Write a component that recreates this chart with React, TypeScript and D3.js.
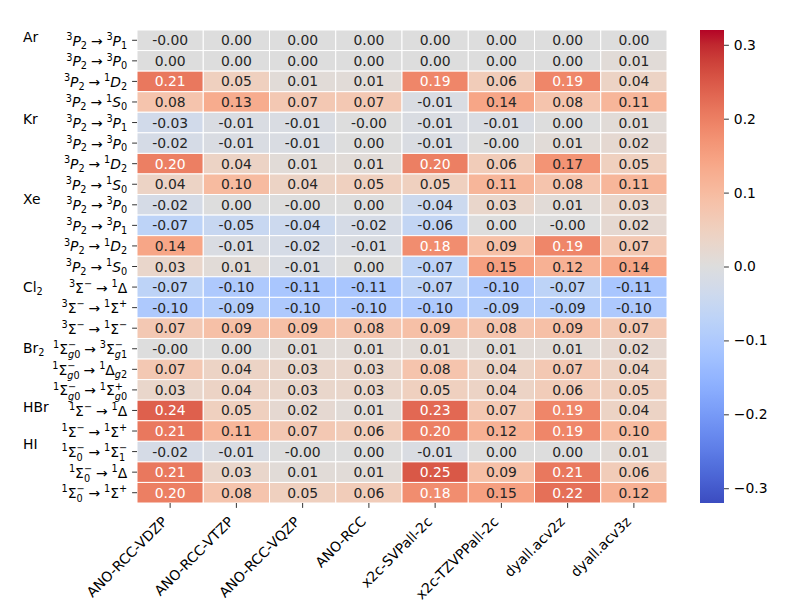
import { useEffect, useRef } from "react";
import * as d3 from "d3";

// Basis sets (columns)
const COLUNAS = [
  "ANO-RCC-VDZP",
  "ANO-RCC-VTZP",
  "ANO-RCC-VQZP",
  "ANO-RCC",
  "x2c-SVPall-2c",
  "x2c-TZVPPall-2c",
  "dyall.acv2z",
  "dyall.acv3z",
];

// Transitions (rows), mini mathtext: ^{..} sup, _{..} sub, space = relation spacing
const TRANSICOES = [
  "^{3}P_{2} → ^{3}P_{1}",
  "^{3}P_{2} → ^{3}P_{0}",
  "^{3}P_{2} → ^{1}D_{2}",
  "^{3}P_{2} → ^{1}S_{0}",
  "^{3}P_{2} → ^{3}P_{1}",
  "^{3}P_{2} → ^{3}P_{0}",
  "^{3}P_{2} → ^{1}D_{2}",
  "^{3}P_{2} → ^{1}S_{0}",
  "^{3}P_{2} → ^{3}P_{0}",
  "^{3}P_{2} → ^{3}P_{1}",
  "^{3}P_{2} → ^{1}D_{2}",
  "^{3}P_{2} → ^{1}S_{0}",
  "^{3}Σ^{−} → ^{1}Δ",
  "^{3}Σ^{−} → ^{1}Σ^{+}",
  "^{3}Σ^{−} → ^{1}Σ^{−}",
  "^{1}Σ^{−}_{g0} → ^{3}Σ^{−}_{g1}",
  "^{1}Σ^{−}_{g0} → ^{1}Δ_{g2}",
  "^{1}Σ^{−}_{g0} → ^{1}Σ^{+}_{g0}",
  "^{1}Σ^{−} → ^{1}Δ",
  "^{1}Σ^{−} → ^{1}Σ^{+}",
  "^{1}Σ^{−}_{0} → ^{1}Σ^{−}_{1}",
  "^{1}Σ^{−}_{0} → ^{1}Δ",
  "^{1}Σ^{−}_{0} → ^{1}Σ^{+}",
];

// Molecule / atom labels and the (fractional) row where they sit
const GRUPOS = ["Ar", "Kr", "Xe", "Cl_{2}", "Br_{2}", "HBr", "HI"];
const GRUPOS_LINHA = [0, 4, 7.9, 12.2, 15.15, 18, 19.8];

// Values per basis set (-0.001 shows as "-0.00")
const anoRccVdzp = [-0.001, 0.0, 0.21, 0.08, -0.03, -0.02, 0.2, 0.04, -0.02, -0.07, 0.14, 0.03, -0.07, -0.1, 0.07, -0.001, 0.07, 0.03, 0.24, 0.21, -0.02, 0.21, 0.2];
const anoRccVtzp = [0.0, 0.0, 0.05, 0.13, -0.01, -0.01, 0.04, 0.1, 0.0, -0.05, -0.01, 0.01, -0.1, -0.09, 0.09, 0.0, 0.04, 0.04, 0.05, 0.11, -0.01, 0.03, 0.08];
const anoRccVqzp = [0.0, 0.0, 0.01, 0.07, -0.01, -0.01, 0.01, 0.04, -0.001, -0.04, -0.02, -0.01, -0.11, -0.1, 0.09, 0.01, 0.03, 0.03, 0.02, 0.07, -0.001, 0.01, 0.05];
const anoRcc = [0.0, 0.0, 0.01, 0.07, -0.001, 0.0, 0.01, 0.05, 0.0, -0.02, -0.01, 0.0, -0.11, -0.1, 0.08, 0.01, 0.03, 0.03, 0.01, 0.06, 0.0, 0.01, 0.06];
const x2cSvpall = [0.0, 0.0, 0.19, -0.01, -0.01, -0.01, 0.2, 0.05, -0.04, -0.06, 0.18, -0.07, -0.07, -0.1, 0.09, 0.01, 0.08, 0.05, 0.23, 0.2, -0.01, 0.25, 0.18];
const x2cTzvppall = [0.0, 0.0, 0.06, 0.14, -0.01, -0.001, 0.06, 0.11, 0.03, 0.0, 0.09, 0.15, -0.1, -0.09, 0.08, 0.01, 0.04, 0.04, 0.07, 0.12, 0.0, 0.09, 0.15];
const dyallAcv2z = [0.0, 0.0, 0.19, 0.08, 0.0, 0.01, 0.17, 0.08, 0.01, -0.001, 0.19, 0.12, -0.07, -0.09, 0.09, 0.01, 0.07, 0.06, 0.19, 0.19, 0.0, 0.21, 0.22];
const dyallAcv3z = [0.0, 0.01, 0.04, 0.11, 0.01, 0.02, 0.05, 0.11, 0.03, 0.02, 0.07, 0.14, -0.11, -0.1, 0.07, 0.02, 0.04, 0.05, 0.04, 0.1, 0.01, 0.06, 0.12];

const VALORES = [anoRccVdzp, anoRccVtzp, anoRccVqzp, anoRcc, x2cSvpall, x2cTzvppall, dyallAcv2z, dyallAcv3z];

const VMIN = -0.32;
const VMAX = 0.32;
const TICKS_CBAR = [-0.3, -0.2, -0.1, 0.0, 0.1, 0.2, 0.3];

// coolwarm (Moreland) control points
const COOLWARM = [
  [59, 76, 192], [68, 90, 204], [77, 104, 215], [87, 117, 225], [98, 130, 234],
  [108, 142, 241], [119, 154, 247], [130, 165, 251], [141, 176, 254], [152, 185, 255],
  [163, 194, 255], [174, 201, 253], [184, 208, 249], [194, 213, 244], [204, 217, 238],
  [213, 219, 230], [221, 221, 221], [229, 216, 209], [236, 211, 197], [241, 204, 185],
  [245, 196, 173], [247, 187, 160], [247, 177, 148], [247, 166, 135], [244, 154, 123],
  [241, 141, 111], [236, 127, 99], [229, 112, 88], [222, 96, 77], [213, 80, 66],
  [203, 62, 56], [192, 40, 47], [180, 4, 38],
];

const FONTE = "'DejaVu Sans', sans-serif";
const FS = 13.9;
const ESPACO_REL = 3.9; // espaço em torno de \rightarrow

// largura aproximada (em) dos glifos DejaVu usados em índices
const LARG: Record<string, number> = { "−": 0.838, "+": 0.838, g: 0.635 };
const largura = (s: string, fs: number) =>
  Array.from(s).reduce((acc, c) => acc + (LARG[c] ?? 0.636), 0) * fs;

type Peca = { texto: string; nivel: "base" | "sup" | "sub" | "espaco"; empilhado?: boolean };

function parseMath(s: string): Peca[] {
  const pecas: Peca[] = [];
  let i = 0;
  while (i < s.length) {
    const ch = s[i];
    if (ch === "^" || ch === "_") {
      let corpo: string;
      if (s[i + 1] === "{") {
        const j = s.indexOf("}", i);
        corpo = s.slice(i + 2, j);
        i = j + 1;
      } else {
        corpo = s[i + 1];
        i += 2;
      }
      const nivel = ch === "^" ? "sup" : "sub";
      const ant = pecas[pecas.length - 1];
      pecas.push({ texto: corpo, nivel, empilhado: nivel === "sub" && !!ant && ant.nivel === "sup" });
    } else if (ch === " ") {
      pecas.push({ texto: "", nivel: "espaco" });
      i++;
    } else {
      const ant = pecas[pecas.length - 1];
      if (ant && ant.nivel === "base") ant.texto += ch;
      else pecas.push({ texto: ch, nivel: "base" });
      i++;
    }
  }
  return pecas;
}

function escreveMath(
  texto: d3.Selection<SVGTextElement, unknown, null, undefined>,
  s: string,
  italico: boolean
) {
  const pecas = parseMath(s);
  let desloc = 0;
  let dxPendente = 0;
  const fsS = FS * 0.7;
  pecas.forEach((p, idx) => {
    if (p.nivel === "espaco") {
      dxPendente += ESPACO_REL;
      return;
    }
    const alvo = p.nivel === "sup" ? -0.42 * FS : p.nivel === "sub" ? (p.empilhado ? 0.3 : 0.2) * FS : 0;
    const fs = p.nivel === "base" ? FS : fsS;
    let dx = dxPendente;
    dxPendente = 0;
    if (p.empilhado) {
      const sup = pecas[idx - 1].texto;
      dx -= largura(sup, fsS);
      const dif = largura(sup, fsS) - largura(p.texto, fsS);
      if (dif > 0) dxPendente += dif;
    }
    // separa em trechos itálicos (latinas) e retos
    const trechos: { t: string; it: boolean }[] = [];
    Array.from(p.texto).forEach((c) => {
      const it = italico && /[A-Za-z]/.test(c);
      const ult = trechos[trechos.length - 1];
      if (ult && ult.it === it) ult.t += c;
      else trechos.push({ t: c, it });
    });
    trechos.forEach((tr, k) => {
      texto
        .append("tspan")
        .attr("dx", k === 0 ? dx : 0)
        .attr("dy", k === 0 ? alvo - desloc : 0)
        .style("font-size", `${fs}px`)
        .style("font-style", tr.it ? "italic" : "normal")
        .text(tr.t);
    });
    desloc = alvo;
  });
}

const App = () => {
  const svgRef = useRef<SVGSVGElement>(null);

  useEffect(() => {
    if (!svgRef.current) return;
    const svg = d3.select(svgRef.current);
    svg.selectAll("*").remove();

    // Área do heatmap
    const x0 = 137, x1 = 667, y0 = 30, y1 = 503;
    const nLinhas = TRANSICOES.length;

    const xScale = d3.scaleBand<number>().domain(d3.range(COLUNAS.length)).range([x0, x1]);
    const yScale = d3.scaleBand<number>().domain(d3.range(nLinhas)).range([y0, y1]);
    const yLin = d3.scaleLinear().domain([0, nLinhas]).range([y0, y1]);

    const norm = d3.scaleLinear().domain([VMIN, VMAX]).range([0, 1]).clamp(true);
    const cmap = d3
      .scaleLinear<string>()
      .domain(COOLWARM.map((_, i) => i / (COOLWARM.length - 1)))
      .range(COOLWARM.map((c) => d3.rgb(c[0], c[1], c[2]).toString()))
      .interpolate(d3.interpolateRgb);
    const cor = (v: number) => cmap(norm(v));

    const luminancia = (c: string) => {
      const { r, g, b } = d3.rgb(c);
      const lin = (v: number) => {
        v /= 255;
        return v <= 0.03928 ? v / 12.92 : Math.pow((v + 0.055) / 1.055, 2.4);
      };
      return 0.2126 * lin(r) + 0.7152 * lin(g) + 0.0722 * lin(b);
    };

    const celulas: { c: number; r: number; v: number }[] = [];
    VALORES.forEach((col, c) => col.forEach((v, r) => celulas.push({ c, r, v })));

    const g = svg.append("g");

    g.selectAll("rect.cel")
      .data(celulas)
      .enter()
      .append("rect")
      .attr("class", "cel")
      .attr("x", (d) => xScale(d.c)!)
      .attr("y", (d) => yScale(d.r)!)
      .attr("width", xScale.bandwidth())
      .attr("height", yScale.bandwidth())
      .attr("fill", (d) => cor(d.v))
      .attr("stroke", "white")
      .attr("stroke-width", 1);

    g.selectAll("text.anot")
      .data(celulas)
      .enter()
      .append("text")
      .attr("class", "anot")
      .attr("x", (d) => xScale(d.c)! + xScale.bandwidth() / 2)
      .attr("y", (d) => yScale(d.r)! + yScale.bandwidth() / 2)
      .attr("dy", "0.36em")
      .attr("text-anchor", "middle")
      .style("font-family", FONTE)
      .style("font-size", `${FS}px`)
      .attr("fill", (d) => (luminancia(cor(d.v)) > 0.408 ? "#262626" : "#ffffff"))
      .text((d) => d.v.toFixed(2));

    // Ticks eixo Y
    const eixoY = svg.append("g");
    TRANSICOES.forEach((lab, r) => {
      const yc = yScale(r)! + yScale.bandwidth() / 2;
      eixoY
        .append("line")
        .attr("x1", x0 - 4.9)
        .attr("x2", x0)
        .attr("y1", yc)
        .attr("y2", yc)
        .attr("stroke", "#000")
        .attr("stroke-width", 0.8);
      const t = eixoY
        .append("text")
        .attr("x", x0 - 9.8)
        .attr("y", yc + 5.5)
        .attr("text-anchor", "end")
        .style("font-family", FONTE)
        .style("font-size", `${FS}px`)
        .attr("fill", "#000");
      escreveMath(t, lab, true);
    });

    // Rótulos dos grupos
    GRUPOS.forEach((nome, i) => {
      const t = svg
        .append("text")
        .attr("x", 23)
        .attr("y", yLin(GRUPOS_LINHA[i]) + 11.5)
        .style("font-family", FONTE)
        .style("font-size", `${FS}px`)
        .attr("fill", "#000");
      escreveMath(t, nome, false);
    });

    // Ticks eixo X
    const eixoX = svg.append("g");
    COLUNAS.forEach((nome, c) => {
      const xc = xScale(c)! + xScale.bandwidth() / 2;
      eixoX
        .append("line")
        .attr("x1", xc)
        .attr("x2", xc)
        .attr("y1", y1)
        .attr("y2", y1 + 4.9)
        .attr("stroke", "#000")
        .attr("stroke-width", 0.8);
      eixoX
        .append("text")
        .attr("transform", `translate(${xc - 2},${y1 + 19.5}) rotate(-45)`)
        .attr("text-anchor", "end")
        .style("font-family", FONTE)
        .style("font-size", `${FS}px`)
        .attr("fill", "#000")
        .text(nome);
    });

    // Colorbar
    const cbX = 700, cbW = 24;
    const cbScale = d3.scaleLinear().domain([VMIN, VMAX]).range([y1, y0]);
    const grad = svg
      .append("defs")
      .append("linearGradient")
      .attr("id", "grad-cbar")
      .attr("x1", 0)
      .attr("y1", 1)
      .attr("x2", 0)
      .attr("y2", 0);
    d3.range(0, 1.0001, 1 / 64).forEach((t) => {
      grad.append("stop").attr("offset", t).attr("stop-color", cmap(t));
    });
    svg
      .append("rect")
      .attr("x", cbX)
      .attr("y", y0)
      .attr("width", cbW)
      .attr("height", y1 - y0)
      .attr("fill", "url(#grad-cbar)");

    const eixoCb = svg
      .append("g")
      .attr("transform", `translate(${cbX + cbW},0)`)
      .call(
        d3
          .axisRight(cbScale)
          .tickValues(TICKS_CBAR)
          .tickSize(4.9)
          .tickPadding(4.9)
          .tickFormat((d) => d3.format(".1f")(d as number))
      );
    eixoCb.select(".domain").remove();
    eixoCb.selectAll("line").attr("stroke", "#000").attr("stroke-width", 0.8);
    eixoCb
      .selectAll("text")
      .style("font-family", FONTE)
      .style("font-size", `${FS}px`)
      .attr("fill", "#000");
  }, []);

  return (
    <svg
      ref={svgRef}
      width={800}
      height={600}
      viewBox="0 0 800 600"
      style={{ position: "absolute", left: 0, top: 0, background: "#fff" }}
    />
  );
};

export default App;
